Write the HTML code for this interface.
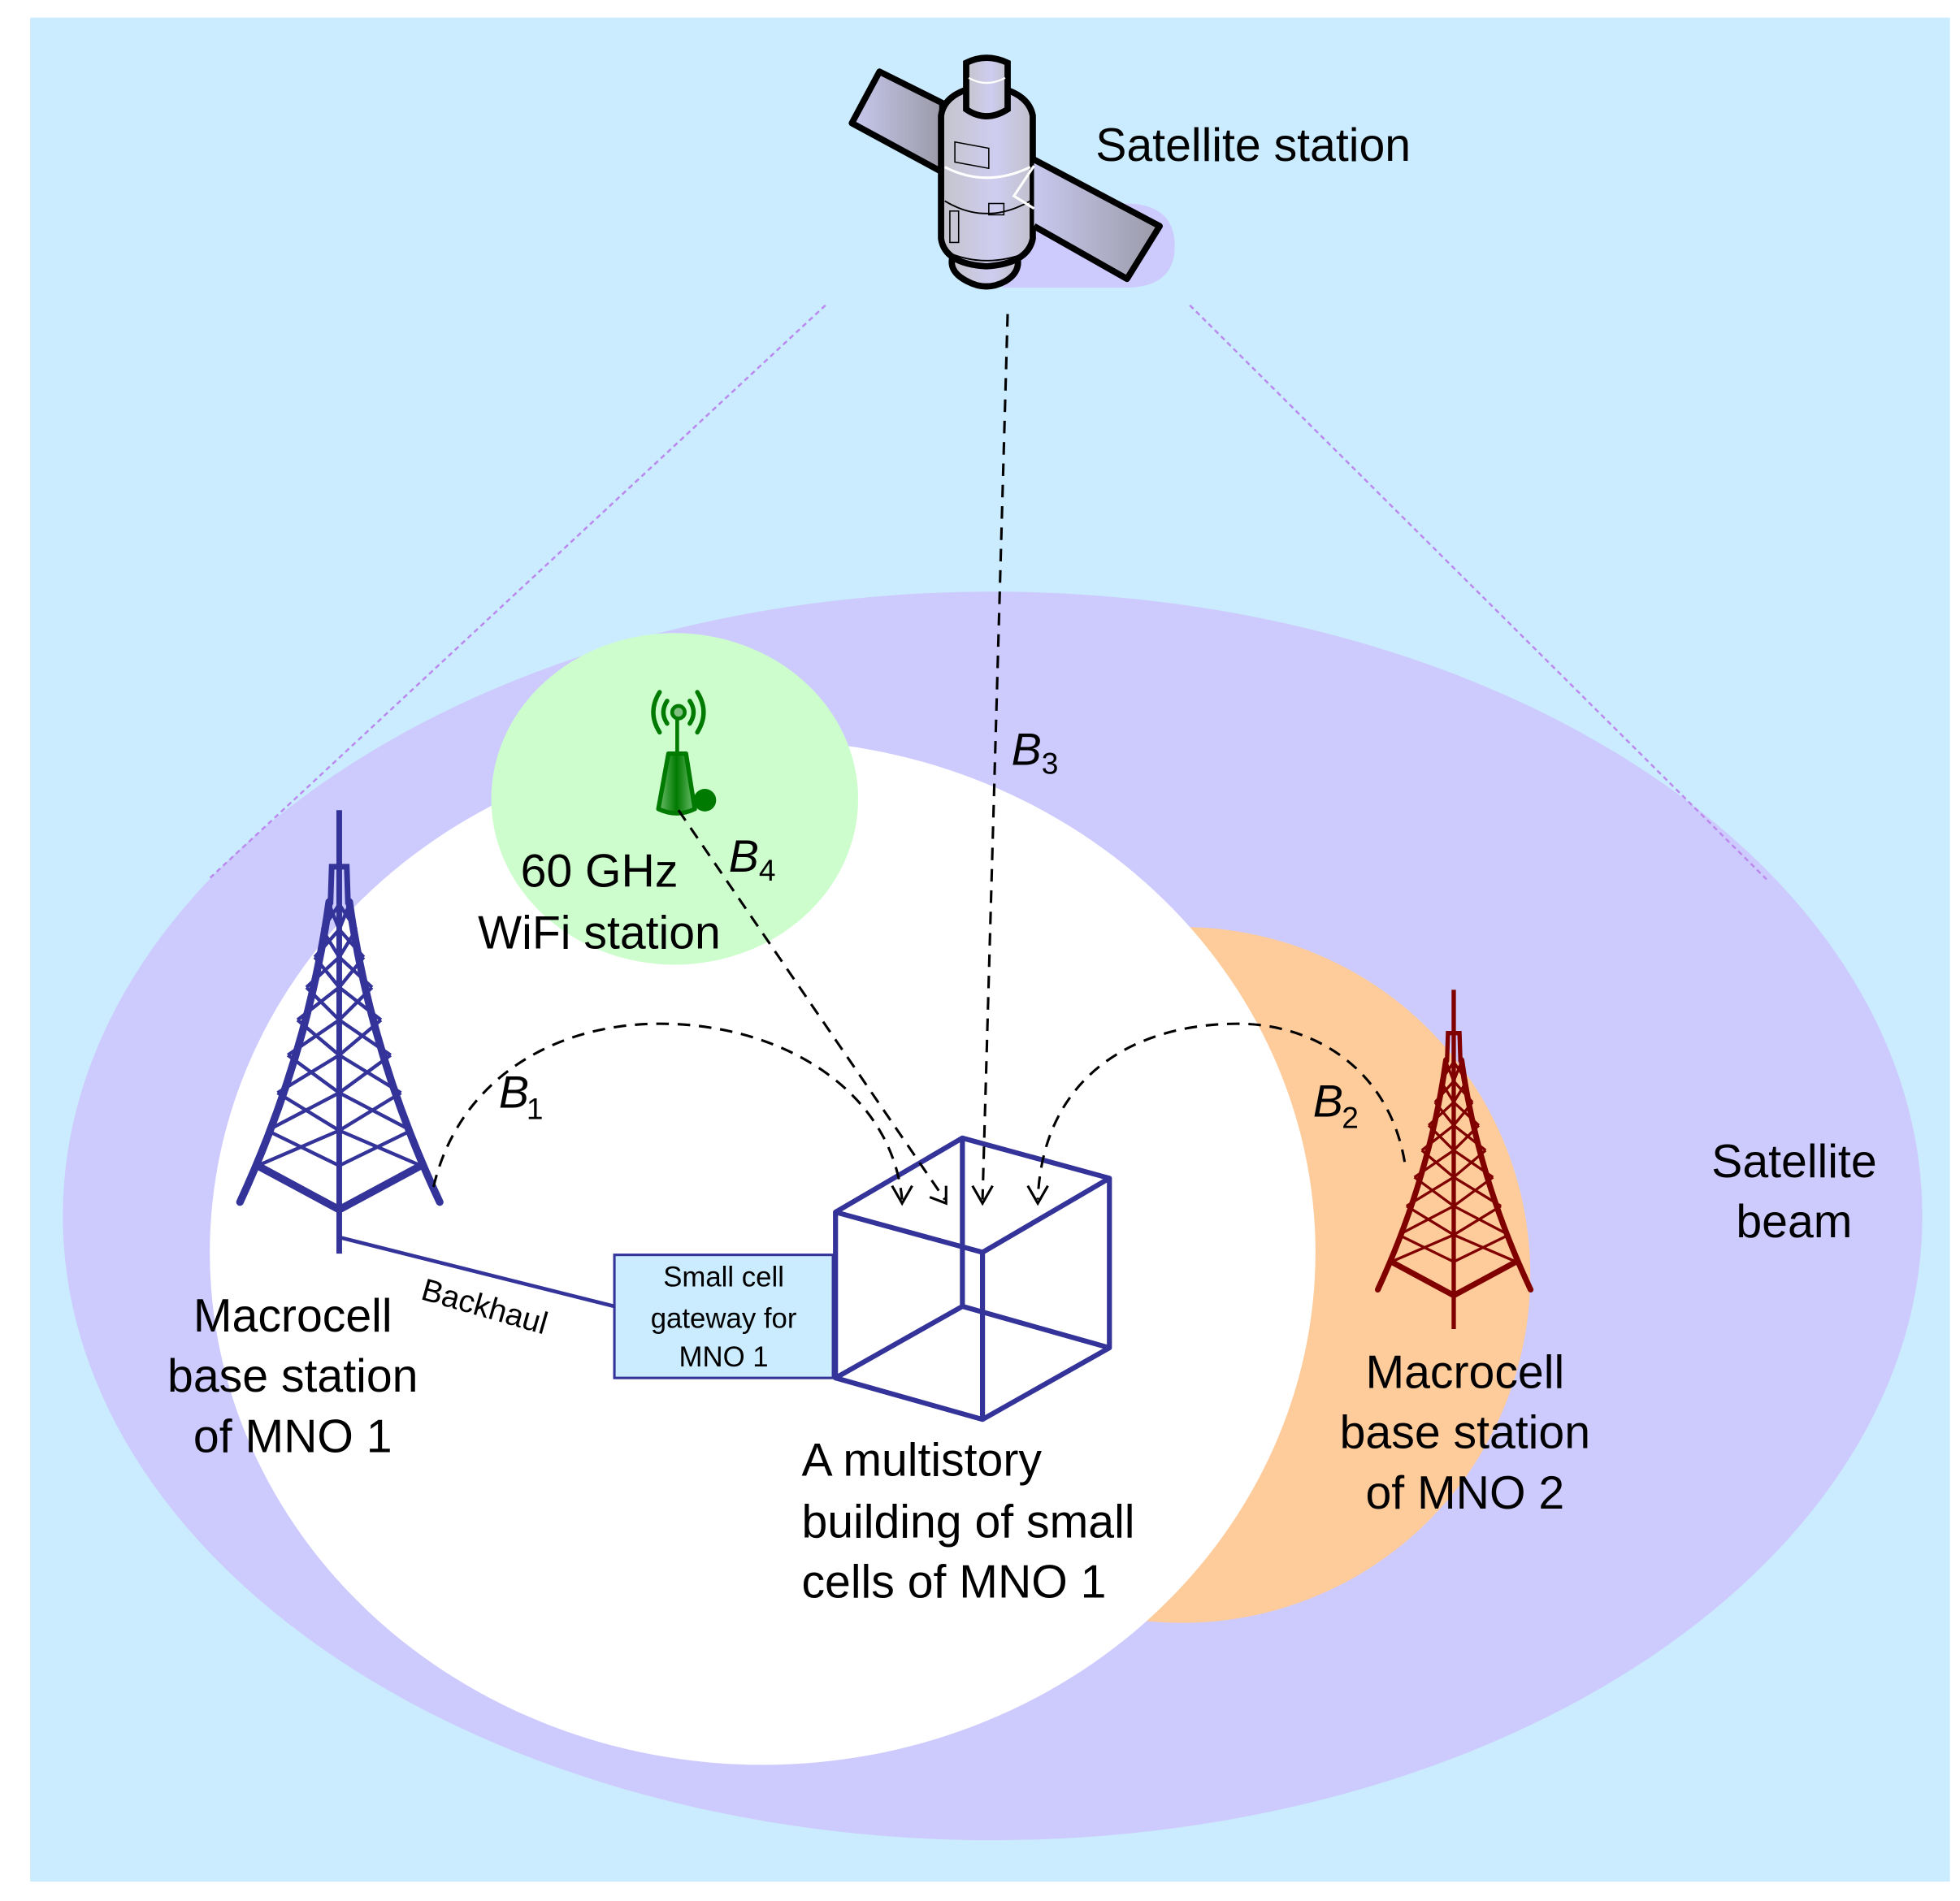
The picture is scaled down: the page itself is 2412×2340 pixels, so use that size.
<!DOCTYPE html>
<html><head><meta charset="utf-8"><style>
html,body{margin:0;padding:0;background:#fff;}
svg{display:block;}
text{font-family:"Liberation Sans",Arial,sans-serif;}
</style></head><body>
<svg width="2412" height="2340" viewBox="0 0 1560 1513.4" xmlns="http://www.w3.org/2000/svg">
<defs>
<linearGradient id="pg" x1="0" y1="0" x2="1" y2="0"><stop offset="0" stop-color="#c8c8ee"/><stop offset="1" stop-color="#9a9aa8"/></linearGradient>
<linearGradient id="bg2" x1="0" y1="0" x2="1" y2="0"><stop offset="0" stop-color="#c4c4cc"/><stop offset="0.6" stop-color="#cfcdf0"/><stop offset="1" stop-color="#c0c0cc"/></linearGradient>
<linearGradient id="gg" x1="0" y1="0" x2="1" y2="0"><stop offset="0" stop-color="#6fbf6f"/><stop offset="0.5" stop-color="#007a00"/><stop offset="1" stop-color="#6fbf6f"/></linearGradient>
<g id="tower">
<line x1="270" y1="645" x2="270" y2="998" stroke-width="4.5"/>
<path d="M263,720 L264,690 L276,690 L277,720" fill="none" stroke-width="4.5"/>
<path d="M262,718 Q245,840 191,957" fill="none" stroke-width="6" stroke-linecap="round"/>
<path d="M278,718 Q295,840 350,957" fill="none" stroke-width="6" stroke-linecap="round"/>
<path d="M205,928 L270,963 L335,928" fill="none" stroke-width="6"/>
<g stroke-width="2.8" fill="none">
<path d="M262,720 L270,740 L278,720 M270,720 L256.5,740 M270,720 L283.5,740"/>
<path d="M256.5,740 L270,762 L283.5,740 M270,740 L250.5,762 M270,740 L289.5,762"/>
<path d="M250.5,762 L270,786 L289.5,762 M270,762 L243.9,786 M270,762 L296.1,786"/>
<path d="M243.9,786 L270,812 L296.1,786 M270,786 L236.8,812 M270,786 L303.2,812"/>
<path d="M236.8,812 L270,840 L303.2,812 M270,812 L229.1,840 M270,812 L310.9,840"/>
<path d="M229.1,840 L270,870 L310.9,840 M270,840 L220.9,870 M270,840 L319.1,870"/>
<path d="M220.9,870 L270,900 L319.1,870 M270,870 L212.7,900 M270,870 L327.3,900"/>
<path d="M212.7,900 L270,928 L327.3,900 M270,900 L205,928 M270,900 L335,928"/>
</g>
</g>
</defs>
<rect x="0" y="0" width="1560" height="1514" fill="#fff"/>
<rect x="24" y="14" width="1528" height="1484" fill="#cbebfe"/>
<ellipse cx="790" cy="968" rx="740" ry="497" fill="#cdcbfd"/>
<line x1="657" y1="243" x2="166" y2="700" stroke="#bb88ee" stroke-width="1.6" stroke-dasharray="4,3"/>
<line x1="947" y1="243" x2="1406" y2="700" stroke="#bb88ee" stroke-width="1.6" stroke-dasharray="4,3"/>
<circle cx="941" cy="1015" r="277" fill="#fecb9b"/>
<ellipse cx="607" cy="997" rx="440" ry="408" fill="#fff"/>
<ellipse cx="537" cy="636" rx="146" ry="132" fill="#cdfdcd"/>

<!-- satellite -->
<path d="M798,162 L895,162 Q935,162 935,196 Q935,229 895,229 L798,229 Z" fill="#cdcbfd"/>
<path d="M700,57 L678,98 L750,137 L750,82 Z" fill="url(#pg)" stroke="#000" stroke-width="5" stroke-linejoin="round"/>
<path d="M760,200 Q752,215 770,224 Q785,232 800,224 Q815,215 808,200 Z" fill="url(#bg2)" stroke="#000" stroke-width="5"/>
<path d="M749,92 Q752,72 785,68 Q818,72 822,92 L822,190 Q818,210 785,212 Q752,210 749,190 Z" fill="url(#bg2)" stroke="#000" stroke-width="5"/>
<path d="M752,133 Q785,150 820,133" fill="none" stroke="#fff" stroke-width="2"/>
<path d="M752,160 Q785,180 820,160" fill="none" stroke="#000" stroke-width="1.2"/>
<path d="M752,200 Q785,215 820,200" fill="none" stroke="#000" stroke-width="1.2"/>
<path d="M769,50 Q785,42 802,50 L802,87 Q785,98 769,87 Z" fill="url(#bg2)" stroke="#000" stroke-width="5"/>
<path d="M771,62 Q785,70 800,62" fill="none" stroke="#fff" stroke-width="1.5"/>
<path d="M760,113 L787,118 L787,134 L760,129 Z" fill="none" stroke="#000" stroke-width="1"/>
<rect x="787" y="162" width="12" height="9" fill="none" stroke="#000" stroke-width="1"/>
<rect x="756" y="168" width="7" height="25" fill="none" stroke="#000" stroke-width="1"/>
<path d="M823,127 L923,180 L897,222 L823,180" fill="url(#pg)" stroke="#000" stroke-width="5" stroke-linejoin="round"/>
<path d="M823,132 L807,156 L823,166" fill="none" stroke="#fff" stroke-width="2"/>
<text x="872" y="128" font-size="37" fill="#000">Satellite station</text>

<!-- building -->
<g stroke="#333399" stroke-width="4" fill="none" stroke-linejoin="round">
<path d="M665,965 L766,906 L883,938 L782,997 Z"/>
<path d="M665,965 L665,1097 L782,1130 L883,1073 L883,938"/>
<path d="M782,997 L782,1130"/>
<path d="M766,906 L766,1040 M665,1097 L766,1040 L883,1073"/>
</g>
<!-- backhaul & gateway -->
<line x1="270" y1="985" x2="489" y2="1040" stroke="#333399" stroke-width="3"/>
<rect x="489" y="999" width="174" height="98" fill="#cbebfe" stroke="#333399" stroke-width="2"/>
<text font-size="22.5" text-anchor="middle" fill="#000"><tspan x="576" y="1024">Small cell</tspan><tspan x="576" y="1057">gateway for</tspan><tspan x="576" y="1088">MNO 1</tspan></text>
<text x="334" y="1034" font-size="25" fill="#000" transform="rotate(16 334 1034)">Backhaul</text>

<!-- towers -->
<use href="#tower" stroke="#333399"/>
<use href="#tower" stroke="#800000" transform="translate(950.5,294.6) scale(0.765)"/>

<!-- wifi -->
<g>
<circle cx="561" cy="637" r="9" fill="#007a00"/>
<path d="M532,600 L524,644 Q539,651 553,644 L546,600 Z" fill="url(#gg)" stroke="#007a00" stroke-width="3.5" stroke-linejoin="round"/>
<line x1="539" y1="567" x2="539" y2="600" stroke="#007a00" stroke-width="3"/>
<circle cx="540" cy="567" r="5" fill="#7fbf7f" stroke="#007a00" stroke-width="3"/>
<g fill="none" stroke="#007a00" stroke-width="3.5" stroke-linecap="round">
<path d="M531,558 Q525,567 531,576"/><path d="M549,558 Q555,567 549,576"/>
<path d="M525,551 Q515,567 525,583"/><path d="M555,551 Q565,567 555,583"/>
</g>
</g>

<!-- dashed links -->
<g fill="none" stroke="#000" stroke-width="2" stroke-dasharray="10,7">
<path d="M345,945 C365,860 440,815 525,815 C625,815 710,870 718,955"/>
<path d="M1118,925 C1105,850 1045,815 985,815 C905,815 830,855 826,955"/>
<path d="M540,645 L752,955"/>
<path d="M802,250 L782,955"/>
</g>
<g fill="none" stroke="#000" stroke-width="2">
<path d="M710,944 L718,958 L726,944"/>
<path d="M818,944 L826,958 L834,944"/>
<path d="M774,944 L782,958 L790,944"/>
<path d="M740,953 L753,958 L753,944"/>
</g>
<g font-size="36" font-style="italic" fill="#000">
<text x="397" y="882">B</text><text x="805" y="609">B</text><text x="1045" y="889">B</text><text x="580" y="694">B</text>
</g>
<g font-size="24" fill="#000">
<text x="419" y="891">1</text><text x="829" y="616">3</text><text x="1068" y="898">2</text><text x="604" y="701">4</text>
</g>

<!-- labels -->
<g font-size="37" fill="#000" text-anchor="middle">
<text x="477" y="706">60 GHz</text><text x="477" y="755">WiFi station</text>
<text x="233" y="1060">Macrocell</text><text x="233" y="1108">base station</text><text x="233" y="1156">of MNO 1</text>
<text x="1166" y="1105">Macrocell</text><text x="1166" y="1153">base station</text><text x="1166" y="1201">of MNO 2</text>
<text x="1428" y="937">Satellite</text><text x="1428" y="985">beam</text>
</g>
<g font-size="37" fill="#000">
<text x="638" y="1175">A multistory</text><text x="638" y="1224">building of small</text><text x="638" y="1272">cells of MNO 1</text>
</g>
</svg>
</body></html>
